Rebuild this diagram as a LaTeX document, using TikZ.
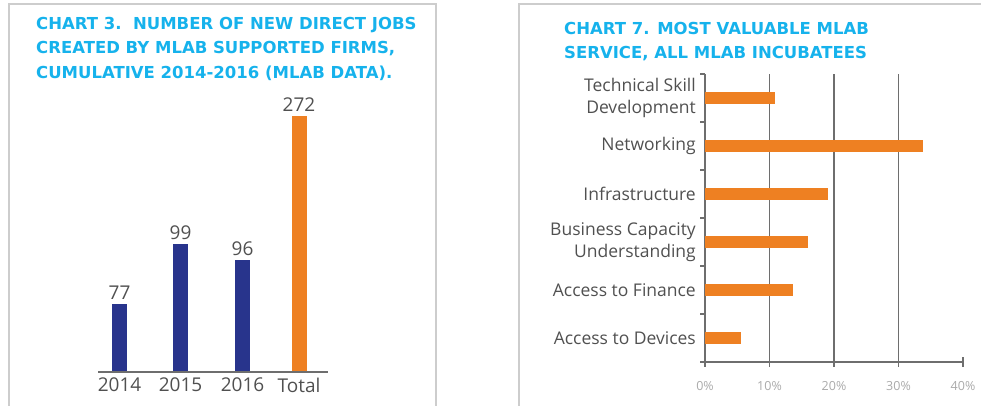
\documentclass[tikz,border=0pt]{standalone}
\usepackage{fontspec}
\setsansfont{Open Sans}
\newfontfamily\headfont{DejaVu Sans}
\usetikzlibrary{positioning}

\definecolor{titlecyan}{RGB}{22,178,236}
\definecolor{barblue}{RGB}{40,52,140}
\definecolor{barorange}{RGB}{238,128,34}
\definecolor{labelgray}{RGB}{80,80,80}
\definecolor{ticklight}{RGB}{170,170,170}
\definecolor{framegray}{RGB}{205,205,205}
\definecolor{axisgray}{RGB}{110,110,110}

\tikzset{
  frame/.style={draw=framegray, line width=1.2pt},
  heading/.style={anchor=base west, inner sep=0, text=titlecyan,
                  font=\headfont\bfseries\fontsize{16.5}{20}\selectfont},
  axisline/.style={draw=axisgray, line width=1.4pt},
  gridline/.style={draw=axisgray, line width=1.2pt},
  bluebar/.style={fill=barblue, minimum width=15pt, inner sep=0, anchor=south},
  orangebar/.style={fill=barorange, minimum width=15pt, inner sep=0, anchor=south},
  hbar/.style={fill=barorange, minimum height=12pt, inner sep=0, anchor=west},
  value/.style={inner sep=0, text=labelgray, font=\sffamily\fontsize{19}{22}\selectfont},
  year/.style={inner sep=0, text=labelgray, font=\sffamily\fontsize{19}{22}\selectfont},
  service/.style={inner sep=0, align=right, text=labelgray,
                  font=\sffamily\fontsize{17.5}{22.5}\selectfont},
  percent/.style={inner sep=0, text=ticklight, font=\sffamily\fontsize{12.5}{14}\selectfont}
}

\begin{document}
\begin{tikzpicture}[x=1pt, y=-1pt]
    \useasboundingbox (0,0) rectangle (981,405);

    % Frames of the two panels
    \draw[frame] (9,410) -- (9,4) -- (436,4) -- (436,410);
    \draw[frame] (519,410) -- (519,4) -- (990,4);

    % Chart 3 heading
    \node[heading] (h3a) at (36,29)   {CHART 3.\ \ NUMBER OF NEW DIRECT JOBS};
    \node[heading] (h3b) at (36,53.5) {CREATED BY MLAB SUPPORTED FIRMS,};
    \node[heading] (h3c) at (36,78)   {CUMULATIVE 2014-2016 (MLAB DATA).};

    % Chart 3 bars
    \node[bluebar,   minimum height=68pt]  (bar14)  at (119.5,372) {};
    \node[bluebar,   minimum height=128pt] (bar15)  at (180.5,372) {};
    \node[bluebar,   minimum height=112pt] (bar16)  at (242.5,372) {};
    \node[orangebar, minimum height=256pt] (bartot) at (299,372)   {};

    % Chart 3 values and years
    \node[value, above=4pt of bar14]  (val14)  {77};
    \node[value, above=4pt of bar15]  (val15)  {99};
    \node[value, above=4pt of bar16]  (val16)  {96};
    \node[value, above=4pt of bartot] (valtot) {272};
    \node[year, below=6pt of bar14]  (yr14)  {2014};
    \node[year, below=6pt of bar15]  (yr15)  {2015};
    \node[year, below=6pt of bar16]  (yr16)  {2016};
    \node[year, below=6pt of bartot] (yrtot) {Total};

    % Chart 3 axis
    \coordinate (base3l) at (98,372);
    \coordinate (base3r) at (328,372);
    \draw[axisline] (base3l) -- (base3r);

    % Chart 7 heading
    \node[heading] (h7a) at (564,34) {CHART 7. MOST VALUABLE MLAB};
    \node[heading] (h7b) at (564,58) {SERVICE, ALL MLAB INCUBATEES};

    % Chart 7 grid and axes
    \draw[gridline] (769.5,74) -- (769.5,367);
    \draw[gridline] (834,74) -- (834,367);
    \draw[gridline] (898.5,74) -- (898.5,367);
    \draw[axisline] (700,362) -- (963,362);
    \draw[axisline] (963,357) -- (963,367);
    \draw[axisline] (705,74) -- (705,367);
    \draw[axisline] (700,74) -- (705,74)
                    (700,122) -- (705,122)
                    (700,170) -- (705,170)
                    (700,218) -- (705,218)
                    (700,266) -- (705,266)
                    (700,314) -- (705,314);

    % Chart 7 bars
    \node[hbar, minimum width=69.7pt]  (skill)  at (705,98)  {};
    \node[hbar, minimum width=218pt]   (net)    at (705,146) {};
    \node[hbar, minimum width=122.5pt] (infra)  at (705,194) {};
    \node[hbar, minimum width=103pt]   (busi)   at (705,242) {};
    \node[hbar, minimum width=87.7pt]  (fin)    at (705,290) {};
    \node[hbar, minimum width=35.5pt]  (dev)    at (705,338) {};

    % Chart 7 services
    \node[service, left=9pt of skill] (lskill) {Technical Skill\\Development};
    \node[service, left=9pt of net]   (lnet)   {Networking};
    \node[service, left=9pt of infra] (linfra) {Infrastructure};
    \node[service, left=9pt of busi]  (lbusi)  {Business Capacity\\Understanding};
    \node[service, left=9pt of fin]   (lfin)   {Access to Finance};
    \node[service, left=9pt of dev]   (ldev)   {Access to Devices};

    % Chart 7 percentages
    \node[percent] (p0)  at (705,386)   {0\%};
    \node[percent] (p10) at (769.5,386) {10\%};
    \node[percent] (p20) at (834,386)   {20\%};
    \node[percent] (p30) at (898.5,386) {30\%};
    \node[percent] (p40) at (963,386)   {40\%};
\end{tikzpicture}
\end{document}
